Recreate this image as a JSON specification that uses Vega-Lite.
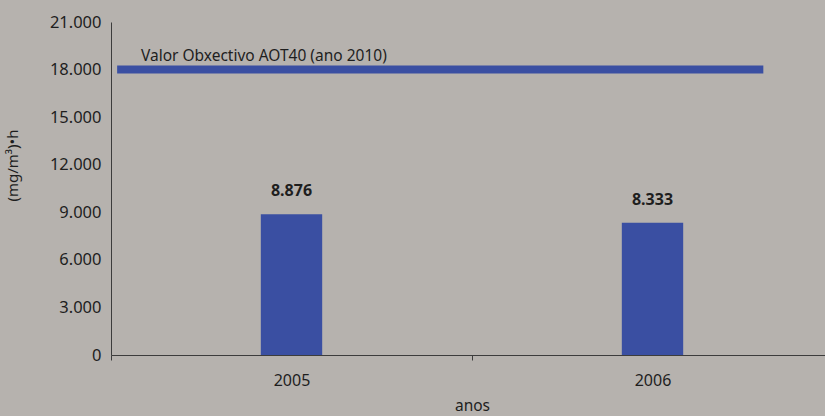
{
  "$schema": "https://vega.github.io/schema/vega-lite/v6.json",
  "width": 722,
  "height": 333,
  "autosize": {"type": "none"},
  "padding": {"left": 111, "top": 22, "right": 0, "bottom": 61},
  "background": "#b6b2ae",
  "config": {
    "view": {"stroke": null},
    "font": "Noto Sans",
    "locale": {"number": {"decimal": ",", "thousands": ".", "grouping": [3], "currency": ["", " €"]}}
  },
  "datasets": {
    "bars": [
      {"ano": "2005", "valor": 8876},
      {"ano": "2006", "valor": 8333}
    ],
    "meta": [
      {"inicio": 0.017, "fin": 1.807, "texto_x": 0.083, "valor": 18000, "texto": "Valor Obxectivo AOT40 (ano 2010)"}
    ]
  },
  "layer": [
    {
      "data": {"name": "bars"},
      "encoding": {
        "x": {
          "field": "ano", "type": "nominal",
          "scale": {"paddingInner": 0, "paddingOuter": 0},
          "axis": {
            "title": "anos", "labelAngle": 0, "tickBand": "extent",
            "domainColor": "#3c3c3c", "tickColor": "#3c3c3c", "tickSize": 5,
            "labelPadding": 12, "labelFontSize": 16, "labelColor": "#1e1e1e",
            "titleFontSize": 15.5, "titleFontWeight": "normal", "titleColor": "#1e1e1e",
            "titlePadding": 10, "grid": false
          }
        },
        "y": {
          "field": "valor", "type": "quantitative",
          "scale": {"domain": [0, 21000], "nice": false},
          "axis": {
            "title": "(mg/m³)•h", "values": [0, 3000, 6000, 9000, 12000, 15000, 18000, 21000],
            "format": ",.0f", "ticks": false, "grid": false,
            "domainColor": "#3c3c3c", "labelPadding": 10, "labelFontSize": 16.5, "labelColor": "#1e1e1e",
            "titleFontSize": 15, "titleFontWeight": "normal", "titleColor": "#1e1e1e",
            "titleX": -91, "titleY": 143
          }
        }
      },
      "layer": [
        {
          "mark": {"type": "bar", "color": "#3a4fa2", "width": {"band": 0.17}}
        },
        {
          "mark": {"type": "text", "fontWeight": "bold", "fontSize": 16, "color": "#1e1e1e", "dy": -23, "baseline": "middle"},
          "encoding": {
            "text": {"field": "valor", "type": "quantitative", "format": ",.0f"}
          }
        }
      ]
    },
    {
      "data": {"name": "meta"},
      "layer": [
        {
          "mark": {"type": "rule", "color": "#3a4fa2", "strokeWidth": 8},
          "encoding": {
            "x": {"field": "inicio", "type": "quantitative", "scale": {"domain": [0, 2], "nice": false, "zero": false}, "axis": null},
            "x2": {"field": "fin"},
            "y": {"field": "valor", "type": "quantitative"}
          }
        },
        {
          "mark": {"type": "text", "align": "left", "baseline": "alphabetic", "dy": -9, "fontSize": 15.5, "color": "#1e1e1e"},
          "encoding": {
            "x": {"field": "texto_x", "type": "quantitative", "scale": {"domain": [0, 2], "nice": false, "zero": false}, "axis": null},
            "y": {"field": "valor", "type": "quantitative"},
            "text": {"field": "texto"}
          }
        }
      ]
    }
  ],
  "resolve": {"scale": {"x": "independent"}}
}
